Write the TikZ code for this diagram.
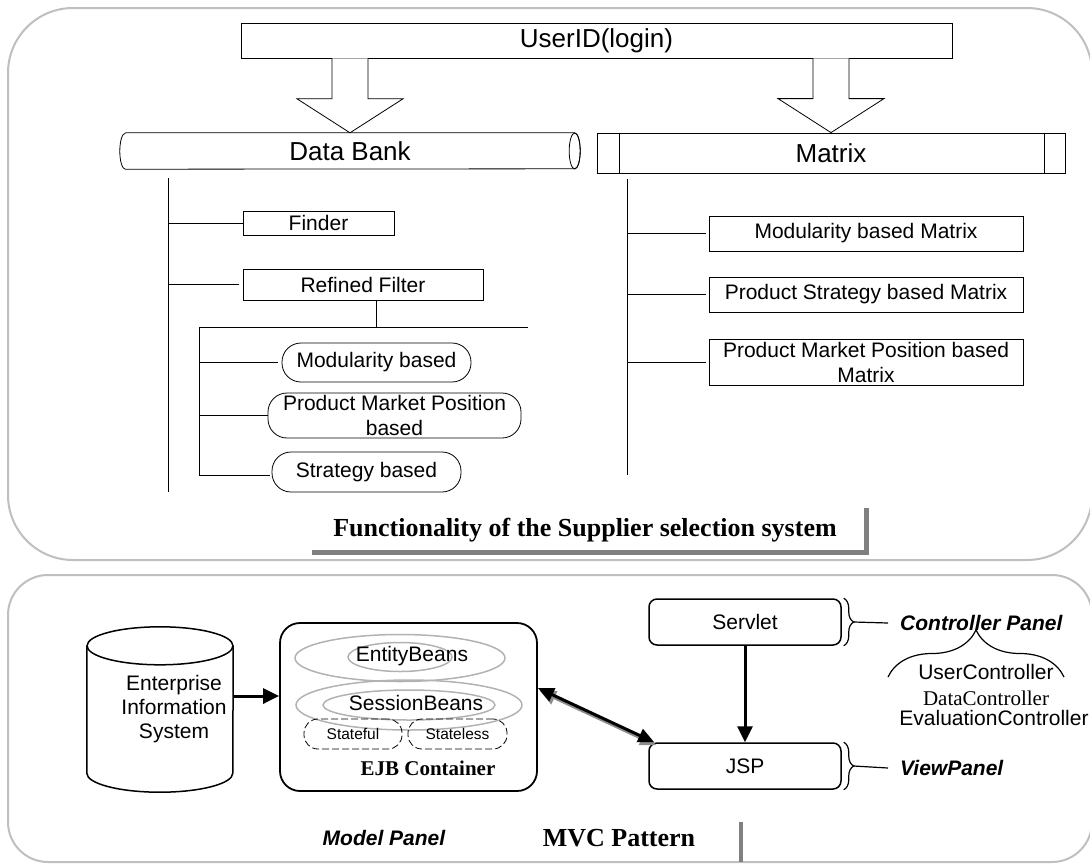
\documentclass[tikz,border=0pt]{standalone}
\usepackage{fontspec}
\setmainfont{Liberation Sans}
\newfontfamily\serifrm{Liberation Serif}
\usetikzlibrary{arrows.meta,calc,decorations.pathreplacing}

\tikzset{
  panel/.style={draw=black!25, line width=2pt, rounded corners=#1},
  plainbox/.style={draw, line width=0.8pt, inner sep=0pt, align=center,
    font=\fontsize{21}{25}\selectfont},
  pill/.style={plainbox, rounded corners=19pt},
  branch/.style={line width=0.8pt},
  heavyarrow/.style={line width=3pt, -{Triangle[length=16pt,width=15pt]}},
  bracemark/.style={decorate, decoration={brace, amplitude=#1}, line width=1.2pt},
  panellabel/.style={inner sep=0pt, font=\fontsize{21}{25}\selectfont\bfseries\itshape},
  bean/.style={draw=black!30, line width=1.5pt},
  beantype/.style={draw, dash pattern=on 7pt off 3pt, line width=0.8pt, rounded corners=14pt,
    minimum height=30, font=\fontsize{15.5}{18}\selectfont},
}

\newcommand{\hollowarrow}[2]{%
  \draw[line width=0.8pt, fill=white] ($(#1)+(-18,0)$) -- ($(#2)+(-18,-34)$)
    -- ($(#2)+(-53,-34)$) -- (#2) -- ($(#2)+(53,-34)$) -- ($(#2)+(18,-34)$)
    -- ($(#1)+(18,0)$);}

\begin{document}
\begin{tikzpicture}[x=1pt, y=-1pt]
\useasboundingbox (0,0) rectangle (1090,863);
\clip (0,0) rectangle (1090,863);

% the two panels
\draw[panel=65pt] (8,8) rectangle (1092,560);
\draw[panel=40pt] (8,575) rectangle (1092,862);

% ---------- functionality ----------
\node[plainbox, font=\fontsize{26}{30}\selectfont, minimum width=711, minimum height=35] (userid) at (596.5,40.5) {UserID(login)};

\node[inner sep=0pt, minimum width=449, minimum height=36, font=\fontsize{26}{30}\selectfont] (databank) at (350,151) {Data Bank};
\draw[line width=0.8pt] (databank.north west) -- (databank.north east)
  arc[start angle=-90, end angle=90, x radius=5.5, y radius=18]
  -- (databank.south west) arc[start angle=90, end angle=270, x radius=5.5, y radius=18];
\draw[line width=0.8pt] (databank.east) ellipse[x radius=5.5, y radius=18];

\node[plainbox, font=\fontsize{26}{30}\selectfont, minimum width=468, minimum height=40] (matrixbar) at (831,153) {Matrix};
\draw[line width=0.8pt] ([xshift=23pt]matrixbar.north west) -- ([xshift=23pt]matrixbar.south west);
\draw[line width=0.8pt] ([xshift=-21pt]matrixbar.north east) -- ([xshift=-21pt]matrixbar.south east);

\hollowarrow{userid.south -| databank.north}{databank.north}
\hollowarrow{userid.south -| matrixbar.north}{matrixbar.north}

% data bank branch
\node[plainbox, minimum width=151, minimum height=24] (finder) at (318.5,223) {Finder};
\node[plainbox, minimum width=240, minimum height=31] (refined) at (363,284.5) {Refined Filter};
\node[pill, minimum width=189, minimum height=39] (modular) at (376.5,362.5) {Modularity based};
\node[pill, minimum width=253, minimum height=45] (pmpos) at (394.5,415.5) {Product Market Position\\based};
\node[pill, minimum width=189, minimum height=40] (strategy) at (366.5,472) {Strategy based};

\coordinate (dbtrunk) at (168,178);
\draw[branch] (dbtrunk) -- (168,492);
\draw[branch] (dbtrunk |- finder.west) -- (finder.west);
\draw[branch] (dbtrunk |- refined.west) -- ([xshift=-4pt]refined.west);
\draw[branch] ([xshift=13pt]refined.south) -- ([xshift=13pt]refined.south |- 0,327);
\coordinate (filterbar) at (199,327);
\draw[branch] (filterbar) -- (528,327);
\draw[branch] (filterbar) -- (199,475);
\draw[branch] (filterbar |- modular.west) -- ([xshift=-4pt]modular.west);
\draw[branch] (filterbar |- pmpos.west) -- (pmpos.west);
\draw[branch] (199,475) -- ([xshift=-2pt]strategy.west |- 0,475);

% matrix branch
\node[plainbox, minimum width=314, minimum height=35] (modmatrix) at (866,233.5) {Modularity based Matrix};
\node[plainbox, minimum width=314, minimum height=35] (stratmatrix) at (866,294.5) {Product Strategy based Matrix};
\node[plainbox, minimum width=314, minimum height=46] (posmatrix) at (866,362) {Product Market Position based\\Matrix};

\coordinate (mxtrunk) at (627,179);
\draw[branch] (mxtrunk) -- (627,475);
\foreach \leaf in {modmatrix, stratmatrix, posmatrix}
  \draw[branch] (mxtrunk |- \leaf.west) -- ([xshift=-3pt]\leaf.west);

% caption with shadow
\node[inner sep=0pt, font=\fontsize{26}{30}\serifrm\bfseries] (topcaption) at (585,530) {Functionality of the Supplier selection system};
\draw[black!50, line width=5pt] (312,552) -- (866,552) -- (866,508);

% ---------- MVC pattern ----------
\node[inner sep=0pt, minimum width=146, minimum height=127] (eis) at (160,709.5) {};
\draw[line width=1.5pt] (eis.north west) -- (eis.south west)
  arc[start angle=180, end angle=0, x radius=73, y radius=19] -- (eis.north east);
\draw[line width=1.5pt] (eis.north) ellipse[x radius=73, y radius=19];
\node[inner sep=0pt, align=center, font=\fontsize{21}{24}\selectfont] (eistext) at (174,709) {Enterprise\\Information\\System};

\node[draw, line width=1.8pt, rounded corners=20pt, minimum width=257, minimum height=168] (ejb) at (408.5,707) {};
\draw[bean] (400,658) ellipse[x radius=105, y radius=23.5];
\draw[bean] (400,657) ellipse[x radius=52, y radius=14.5];
\draw[bean] (409,705) ellipse[x radius=113, y radius=25];
\draw[bean] (409,705) ellipse[x radius=86, y radius=15];
\node[inner sep=0pt, font=\fontsize{21}{25}\selectfont] (entity) at (412,656) {EntityBeans};
\node[inner sep=0pt, font=\fontsize{21}{25}\selectfont] (session) at (416,703) {SessionBeans};
\node[beantype, minimum width=98] (stateful) at (353,734) {Stateful};
\node[beantype, minimum width=99] (stateless) at (457.5,734) {Stateless};
\node[inner sep=0pt, font=\fontsize{21}{25}\serifrm\bfseries] (ejblabel) at (428,768) {EJB Container};

\draw[heavyarrow] ([yshift=13.5pt]eis.east) -- ([yshift=13.5pt]eis.east -| ejb.west);

\node[draw, line width=1.5pt, rounded corners=8pt, minimum width=192, minimum height=46, font=\fontsize{21}{25}\selectfont] (servlet) at (745,622) {Servlet};
\node[draw, line width=1.5pt, rounded corners=8pt, minimum width=192, minimum height=46, font=\fontsize{21}{25}\selectfont] (jsp) at (745,766) {JSP};
\draw[heavyarrow] (servlet.south) -- (jsp.north);

\coordinate (ejbport) at ([yshift=19pt]ejb.east);
\coordinate (jspport) at ([xshift=6pt]jsp.north west);
\draw[black!45, line width=3pt, {Triangle[length=16pt,width=14pt]}-{Triangle[length=16pt,width=14pt]}] ($(ejbport)+(2,3)$) -- ($(jspport)+(2,3)$);
\draw[line width=3pt, {Triangle[length=16pt,width=14pt]}-{Triangle[length=16pt,width=14pt]}] (ejbport) -- (jspport);

% panels on the right
\node[panellabel, anchor=west] (ctrlpanel) at (900,623) {Controller Panel};
\node[panellabel, anchor=west] (viewpanel) at (900,768) {ViewPanel};
\draw[bracemark=10pt] ([xshift=2pt]servlet.north east) -- ([xshift=2pt]servlet.south east);
\draw[bracemark=10pt] ([xshift=2pt]jsp.north east) -- ([xshift=2pt]jsp.south east);
\draw[line width=1.2pt] ([xshift=12pt]servlet.east) -- ([xshift=-12pt]ctrlpanel.west);
\draw[line width=1.2pt] ([xshift=12pt]jsp.east) -- ([xshift=-12pt]viewpanel.west);

\draw[bracemark=47pt] (888,677) -- (1064,677);
\node[inner sep=0pt, font=\fontsize{21}{25}\selectfont] (userctrl) at (986,672) {UserController};
\node[inner sep=0pt, font=\fontsize{21}{25}\serifrm] (datactrl) at (986,698) {DataController};
\node[inner sep=0pt, font=\fontsize{21}{25}\selectfont] (evalctrl) at (994,718) {EvaluationController};

\node[panellabel] (modelpanel) at (384,838) {Model Panel};
\node[inner sep=0pt, font=\fontsize{26}{30}\serifrm\bfseries] (mvclabel) at (619,838) {MVC Pattern};
\draw[black!50, line width=4pt] (741,822) -- (741,862);
\end{tikzpicture}
\end{document}
